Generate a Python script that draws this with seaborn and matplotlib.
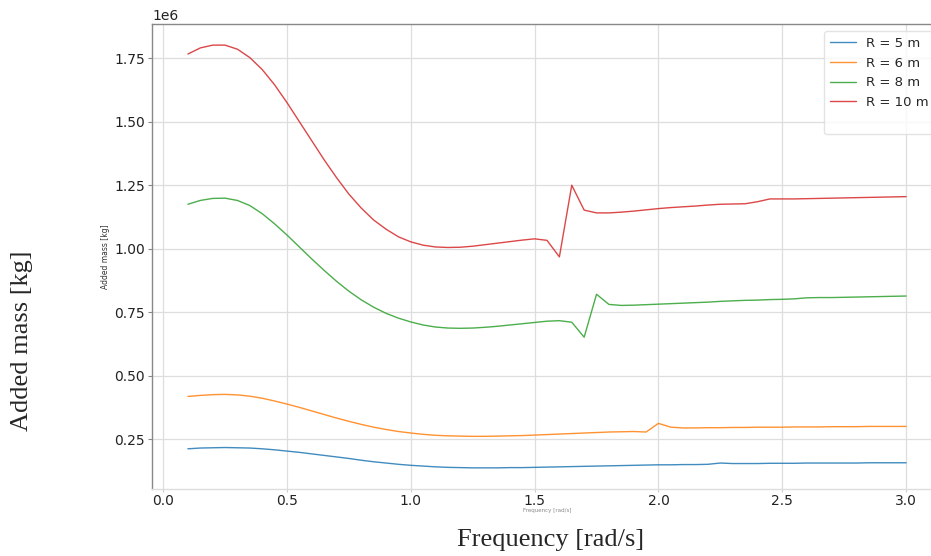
import numpy as np
import pandas as pd
import matplotlib
matplotlib.use("Agg")
import matplotlib.pyplot as plt
from matplotlib.lines import Line2D
import seaborn as sns

freq = [0.10, 0.15, 0.20, 0.25, 0.30, 0.35, 0.40, 0.45, 0.50, 0.55,
        0.60, 0.65, 0.70, 0.75, 0.80, 0.85, 0.90, 0.95, 1.00, 1.05,
        1.10, 1.15, 1.20, 1.25, 1.30, 1.35, 1.40, 1.45, 1.50, 1.55,
        1.60, 1.65, 1.70, 1.75, 1.80, 1.85, 1.90, 1.95, 2.00, 2.05,
        2.10, 2.15, 2.20, 2.25, 2.30, 2.35, 2.40, 2.45, 2.50, 2.55,
        2.60, 2.65, 2.70, 2.75, 2.80, 2.85, 2.90, 2.95, 3.00]

r5 = [0.213, 0.216, 0.217, 0.218, 0.217, 0.216, 0.213, 0.209, 0.204, 0.199,
      0.193, 0.187, 0.181, 0.175, 0.168, 0.162, 0.157, 0.152, 0.148, 0.145,
      0.142, 0.140, 0.139, 0.138, 0.138, 0.138, 0.139, 0.139, 0.140, 0.141,
      0.142, 0.143, 0.144, 0.145, 0.146, 0.147, 0.148, 0.149, 0.150, 0.150,
      0.151, 0.151, 0.152, 0.157, 0.155, 0.155, 0.155, 0.156, 0.156, 0.156,
      0.157, 0.157, 0.157, 0.157, 0.157, 0.158, 0.158, 0.158, 0.158]

r6 = [0.419, 0.423, 0.426, 0.427, 0.425, 0.420, 0.412, 0.401, 0.389, 0.376,
      0.362, 0.348, 0.334, 0.321, 0.309, 0.298, 0.289, 0.281, 0.275, 0.270,
      0.266, 0.264, 0.263, 0.262, 0.262, 0.263, 0.264, 0.265, 0.267, 0.269,
      0.271, 0.273, 0.275, 0.277, 0.279, 0.280, 0.281, 0.279, 0.313, 0.298,
      0.295, 0.295, 0.296, 0.296, 0.297, 0.297, 0.298, 0.298, 0.298, 0.299,
      0.299, 0.299, 0.300, 0.300, 0.300, 0.301, 0.301, 0.301, 0.301]

r8 = [1.175, 1.190, 1.198, 1.199, 1.190, 1.170, 1.138, 1.098, 1.054, 1.007,
      0.960, 0.915, 0.872, 0.833, 0.799, 0.770, 0.746, 0.727, 0.712, 0.700,
      0.692, 0.688, 0.687, 0.688, 0.691, 0.695, 0.700, 0.705, 0.710, 0.715,
      0.717, 0.711, 0.652, 0.821, 0.781, 0.777, 0.778, 0.780, 0.782, 0.784,
      0.786, 0.788, 0.790, 0.793, 0.795, 0.797, 0.798, 0.800, 0.801, 0.803,
      0.807, 0.808, 0.808, 0.809, 0.810, 0.811, 0.812, 0.813, 0.814]

r10 = [1.766, 1.790, 1.801, 1.801, 1.785, 1.752, 1.705, 1.645, 1.575, 1.500,
       1.425, 1.350, 1.280, 1.215, 1.160, 1.113, 1.077, 1.047, 1.027, 1.014,
       1.007, 1.005, 1.006, 1.010, 1.016, 1.022, 1.028, 1.034, 1.039, 1.033,
       0.968, 1.250, 1.152, 1.141, 1.141, 1.144, 1.148, 1.153, 1.158, 1.162,
       1.165, 1.168, 1.172, 1.175, 1.176, 1.177, 1.185, 1.196, 1.196, 1.196,
       1.197, 1.198, 1.199, 1.200, 1.201, 1.202, 1.203, 1.204, 1.205]

labels = ["R = 5 m", "R = 6 m", "R = 8 m", "R = 10 m"]
series = [r5, r6, r8, r10]
colors = ["#1f77b4", "#ff7f0e", "#2ca02c", "#d62728"]

rows = []
for lab, vals in zip(labels, series):
    for f, v in zip(freq, vals):
        rows.append({"freq": f, "mass": v * 1e6, "radius": lab})
df = pd.DataFrame(rows)

sns.set_style("whitegrid")
plt.rcParams["font.family"] = ["DejaVu Sans"]

fig = plt.figure(figsize=(9.31, 5.56), dpi=100)
ax = fig.add_axes([152 / 931, 67 / 556, 790 / 931, 465 / 556])

sns.lineplot(data=df, x="freq", y="mass", hue="radius", hue_order=labels,
             palette=colors, linewidth=1.0, alpha=0.85, ax=ax, legend=False)

ax.set_xticks([0.0, 0.5, 1.0, 1.5, 2.0, 2.5, 3.0])
ax.set_yticks([0.25e6, 0.5e6, 0.75e6, 1.0e6, 1.25e6, 1.5e6, 1.75e6])
ax.tick_params(axis="both", labelsize=10, colors="#222222")
ax.tick_params(axis="y", length=3, pad=2, color="#888888", left=True)
ax.tick_params(axis="x", length=2, pad=1.5, color="#cccccc", bottom=True)
ax.grid(True, color="#dedede", linewidth=0.9)
ax.set_xlabel("Frequency [rad/s]", fontsize=4, color="#888888", labelpad=0)
ax.set_ylabel("Added mass [kg]", fontsize=5.5, color="#333333", labelpad=3)
ax.yaxis.get_offset_text().set_fontsize(10)

ax.spines["left"].set_color("#888888")
ax.spines["top"].set_color("#888888")
ax.spines["bottom"].set_color("#dddddd")
ax.spines["right"].set_visible(False)
for s in ["left", "top", "bottom"]:
    ax.spines[s].set_linewidth(1.0)

handles = [Line2D([], [], color=c, linewidth=1.0, alpha=0.85) for c in colors]
handles.append(Line2D([], [], alpha=0))
leg = ax.legend(handles, labels + [""], loc="upper left",
                bbox_to_anchor=((824 - 152) / 790, (489 - 31) / 465),
                borderaxespad=0, fontsize=9.5, frameon=True,
                handlelength=2.0, handletextpad=0.7, labelspacing=0.5,
                borderpad=0.45)
leg.get_frame().set_edgecolor("#dddddd")

fig.text(22 / 931, 1 - 341 / 556, "Added mass [kg]", rotation=90,
         ha="center", va="center", fontsize=19, family="Liberation Serif")
fig.text(551 / 931, 1 - 540 / 556, "Frequency [rad/s]",
         ha="center", va="center", fontsize=19, family="Liberation Serif")

fig.savefig("out.png", dpi=100)
